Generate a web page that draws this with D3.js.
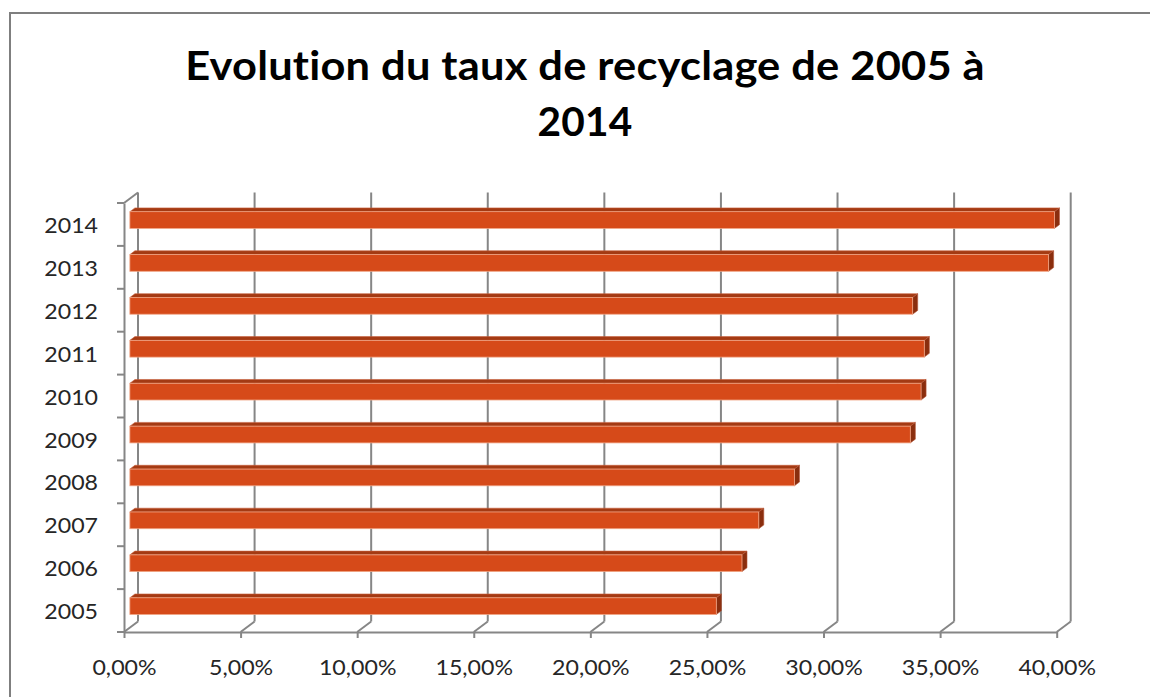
<!DOCTYPE html>
<html><head><meta charset="utf-8">
<script src="https://cdn.jsdelivr.net/npm/d3@7"></script>
<style>
html,body{margin:0;padding:0;background:#fff;}
svg{display:block;}
text{font-family:Lato,"Open Sans",sans-serif;fill:#262626;font-variant-ligatures:none;font-feature-settings:"liga" 0,"clig" 0;}
</style></head>
<body>
<svg id="chart" width="1150" height="697"></svg>
<script>
// ---- data ----
const titleLines = ["Evolution du taux de recyclage de 2005 à", "2014"];
const years = ["2005","2006","2007","2008","2009","2010","2011","2012","2013","2014"];
const rates = [25.15, 26.25, 26.97, 28.50, 33.47, 33.93, 34.07, 33.57, 39.40, 39.65];
const xTicks = [0, 5, 10, 15, 20, 25, 30, 35, 40];

// ---- layout ----
const svg = d3.select("#chart");
const W = 1150, H = 697;
const pLeft = 124, pRight = 1056.7, pTop = 203, pBottom = 632;
const DX = 14, DY = -10.5;          // depth vector of the 3D box
const fFront = 0.42, fBack = 0.78;  // bar depth position
const sx = 1.13;                    // horizontal text stretch
const gridColor = "#868686";

svg.append("rect").attr("x",0).attr("y",0).attr("width",W).attr("height",H).attr("fill","#fff");
svg.append("rect").attr("x",10).attr("y",13).attr("width",1300).attr("height",900)
  .attr("fill","none").attr("stroke","#7f7f7f").attr("stroke-width",2);

const x = d3.scaleLinear().domain([0,40]).range([pLeft,pRight]);
const y = d3.scaleBand().domain(years.slice().reverse()).range([pTop,pBottom]).padding(0);

// ---- title ----
const tg = svg.append("g");
const titleY = [79.5, 136];
titleLines.forEach((t,i)=>{
  const g = tg.append("g").attr("transform",`translate(585,${titleY[i]})`);
  g.append("text").attr("text-anchor","middle")
    .style("font-family","Lato,'Open Sans',sans-serif").style("font-weight","700")
    .style("letter-spacing","0.2px")
    .style("font-size","40.5px").style("fill","#000").text(t);
});

// ---- back wall gridlines & diagonals ----
const grid = svg.append("g");
xTicks.forEach(v=>{
  const px = x(v);
  grid.append("line").attr("x1",px+DX).attr("x2",px+DX).attr("y1",pTop+DY).attr("y2",pBottom+DY)
    .attr("stroke",gridColor).attr("stroke-width",2);
  grid.append("line").attr("x1",px).attr("y1",pBottom).attr("x2",px+DX).attr("y2",pBottom+DY)
    .attr("stroke",gridColor).attr("stroke-width",2);
});
grid.append("line").attr("x1",pLeft).attr("y1",pTop).attr("x2",pLeft+DX).attr("y2",pTop+DY)
  .attr("stroke",gridColor).attr("stroke-width",2);

// ---- bars ----
const bw = y.bandwidth()*0.39;
const fdx = fFront*DX, fdy = fFront*DY;
const ddx = (fBack-fFront)*DX, ddy = (fBack-fFront)*DY;
const data = years.map((yr,i)=>({yr, v:rates[i]}));
const bars = svg.append("g");
bars.selectAll("g").data(data).join("g").each(function(d){
  const g = d3.select(this);
  const x0 = x(0)+fdx, x1 = x(d.v)+fdx;
  const yc = y(d.yr)+y.bandwidth()/2+fdy;
  const y0 = yc-bw/2, y1 = yc+bw/2;
  g.append("path").attr("d",`M${x0},${y0}L${x0+ddx},${y0+ddy}L${x1+ddx},${y0+ddy}L${x1},${y0}Z`)
    .attr("fill","#A43A13").attr("stroke","#c8603c").attr("stroke-width",0.6);
  g.append("path").attr("d",`M${x1},${y0}L${x1+ddx},${y0+ddy}L${x1+ddx},${y1+ddy}L${x1},${y1}Z`)
    .attr("fill","#8A2E0E").attr("stroke","#b5583a").attr("stroke-width",0.6);
  g.append("rect").attr("x",x0).attr("y",y0).attr("width",x1-x0).attr("height",bw)
    .attr("fill","#D64A19").attr("stroke","#f0a585").attr("stroke-width",0.8);
});

// ---- axes ----
const fmt = d3.formatLocale({decimal:",",thousands:" ",grouping:[3],currency:["","€"]}).format(".2f");
const xAxis = svg.append("g").attr("transform",`translate(0,${pBottom})`)
  .call(d3.axisBottom(x).tickValues(xTicks).tickSize(6).tickSizeOuter(0).tickFormat(v=>fmt(v)+"%"));
xAxis.select(".domain").attr("stroke",gridColor).attr("stroke-width",2);
xAxis.selectAll(".tick line").attr("stroke",gridColor).attr("stroke-width",2);
xAxis.selectAll(".tick text").attr("y",43).attr("dy",0).attr("transform",`scale(${sx},1)`)
  .style("font-size","20.5px").style("fill","#262626").style("font-family","Lato,'Open Sans',sans-serif");

const yAxis = svg.append("g").attr("transform",`translate(${pLeft},0)`)
  .call(d3.axisLeft(y).tickSize(0).tickSizeOuter(0));
yAxis.select(".domain").attr("stroke",gridColor).attr("stroke-width",2);
yAxis.selectAll(".tick text").attr("x",-26/sx).attr("dy","0.42em").attr("transform",`scale(${sx},1)`)
  .style("font-size","20.5px").style("fill","#262626").style("font-family","Lato,'Open Sans',sans-serif");
const bounds = years.map(yr=>y(yr)).concat([pBottom]);
yAxis.selectAll(".btick").data(bounds).join("line").attr("class","btick")
  .attr("x1",-7).attr("x2",0).attr("y1",d=>d).attr("y2",d=>d)
  .attr("stroke",gridColor).attr("stroke-width",2);

// fit title widths
tg.selectAll("g").each(function(_,i){
  const t = d3.select(this).select("text").node();
  const w = t.getComputedTextLength();
  const target = i===0 ? 800 : 95;
  d3.select(this).attr("transform",`translate(585,${titleY[i]}) scale(${target/w},1)`);
});
</script>
</body></html>
